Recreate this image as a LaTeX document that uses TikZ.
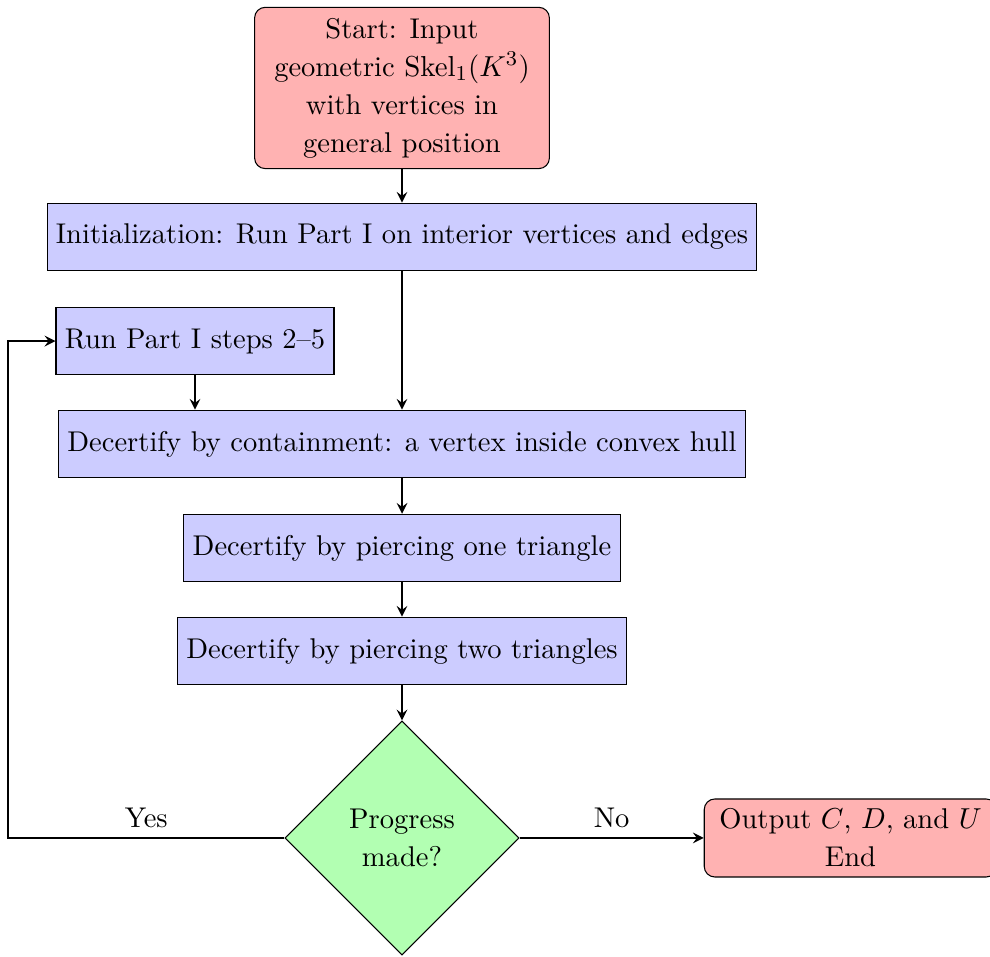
\documentclass[tikz,border=0pt]{standalone}
\usepackage{amsmath}
\usepackage{tikz}
\usetikzlibrary{shapes.geometric, arrows}

\tikzset{
    every node/.style={font=\fontsize{10.83}{14.4}\selectfont},
    startstop/.style={rectangle, rounded corners, draw=black, fill=red!30, align=center, minimum height=1.04cm},
    process/.style={rectangle, draw=black, fill=blue!20, align=center, minimum height=0.9cm},
    decision/.style={diamond, draw=black, fill=green!30, align=center, inner sep=1pt, minimum width=3.12cm, minimum height=3.12cm},
    arrow/.style={thick, ->, >=stealth}
}

\begin{document}
\begin{tikzpicture}
        \useasboundingbox (0,0) rectangle (13.2,-12.747);
        \node[startstop, minimum width=3.93cm, minimum height=2.15cm] (start) at (5.36,-1.173) {Start: Input\\geometric $\operatorname{Skel}_1(K^3)$\\with vertices in\\general position};
        \node[process] (init) at (5.36,-3.16) {Initialization: Run Part I on interior vertices and edges};
        \node[process] (run) at (2.6,-4.547) {Run Part I steps 2--5};
        \node[process] (contain) at (5.36,-5.92) {Decertify by containment: a vertex inside convex hull};
        \node[process] (pierceone) at (5.36,-7.307) {Decertify by piercing one triangle};
        \node[process] (piercetwo) at (5.36,-8.68) {Decertify by piercing two triangles};
        \node[decision] (progress) at (5.36,-11.173) {Progress\\made?};
        \node[startstop, minimum width=3.9cm] (output) at (11.34,-11.173) {Output $C$, $D$, and $U$\\End};
        \coordinate (loop) at (0.107,-11.173);

        \draw[arrow] (start) -- (init);
        \draw[arrow] (init) -- (contain);
        \draw[arrow] (run) -- (run |- contain.north);
        \draw[arrow] (contain) -- (pierceone);
        \draw[arrow] (pierceone) -- (piercetwo);
        \draw[arrow] (piercetwo) -- (progress);
        \draw[arrow] (progress) -- node[above] {No} (output);
        \draw[arrow] (progress) -- node[above] {Yes} (loop) |- (run);
    \end{tikzpicture}
\end{document}
